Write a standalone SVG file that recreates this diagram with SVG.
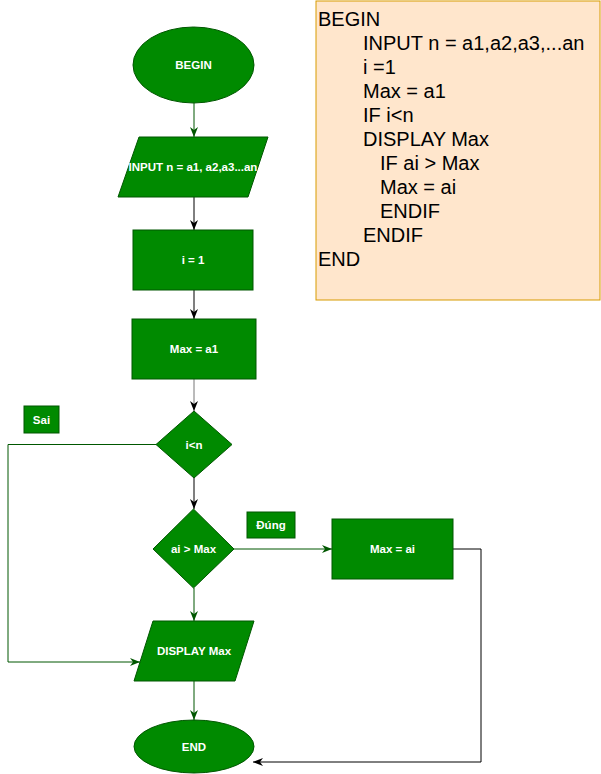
<svg xmlns="http://www.w3.org/2000/svg" width="601" height="774" viewBox="0 0 601 774">
<style>
.shape{fill:#008a00;stroke:#005700;stroke-width:1}
.lbl{font-family:"Liberation Sans",Arial,sans-serif;font-size:11.5px;font-weight:bold;fill:#ffffff;text-anchor:middle;dominant-baseline:central}
.code{font-family:"Liberation Sans",Arial,sans-serif;font-size:20px;fill:#000000}
.c{fill:none;stroke-width:1}
.k{stroke:#000000}
.g{stroke:#005700}
.gy{stroke:#777777}
</style>
<defs>
<marker id="ak" viewBox="0 0 10 10" refX="10" refY="5" markerWidth="10" markerHeight="10" markerUnits="userSpaceOnUse" orient="auto">
<path d="M0,1 L10,5 L0,9 L3,5 Z" fill="#000000"/>
</marker>
<marker id="ag" viewBox="0 0 10 10" refX="10" refY="5" markerWidth="10" markerHeight="10" markerUnits="userSpaceOnUse" orient="auto">
<path d="M0,1 L10,5 L0,9 L3,5 Z" fill="#005700"/>
</marker>
</defs>
<rect width="601" height="774" fill="#ffffff"/>

<g id="connectors">
<path class="c g" d="M194,103 L194,137" marker-end="url(#ag)"/>
<path class="c k" d="M194,197 L194,230" marker-end="url(#ak)"/>
<path class="c k" d="M194,290 L194,319" marker-end="url(#ak)"/>
<path class="c gy" d="M194,379 L194,411" marker-end="url(#ak)"/>
<path class="c k" d="M194,478 L194,509" marker-end="url(#ak)"/>
<path class="c g" d="M156,444.5 L8,444.5 L8,662 L140,662" marker-end="url(#ag)"/>
<path class="c g" d="M234,549 L332,549" marker-end="url(#ag)"/>
<path class="c g" d="M194,588 L194,621" marker-end="url(#ag)"/>
<path class="c g" d="M194,681 L194,720" marker-end="url(#ag)"/>
<path class="c k" d="M453,549 L481,549 L481,762 L253,762" marker-end="url(#ak)"/>
</g>

<g id="begin">
<ellipse class="shape" cx="193.5" cy="65" rx="60.5" ry="38"/>
<text class="lbl" x="193.5" y="65">BEGIN</text>
</g>
<g id="input">
<polygon class="shape" points="139,137 268,137 248,197 118,197"/>
<text class="lbl" x="193" y="167">INPUT n = a1, a2,a3...an</text>
</g>
<g id="i1">
<rect class="shape" x="133" y="230" width="120" height="60"/>
<text class="lbl" x="193" y="260">i = 1</text>
</g>
<g id="maxa1">
<rect class="shape" x="132" y="319" width="124" height="60"/>
<text class="lbl" x="194" y="349">Max = a1</text>
</g>
<g id="cond1">
<polygon class="shape" points="194,411 232,444.5 194,478 156,444.5"/>
<text class="lbl" x="194" y="444.5">i&lt;n</text>
</g>
<g id="sai">
<rect class="shape" x="24" y="406" width="35" height="27"/>
<text class="lbl" x="41.5" y="419.5">Sai</text>
</g>
<g id="cond2">
<polygon class="shape" points="193.5,509 234,549 193.5,588 153,549"/>
<text class="lbl" x="193.5" y="549">ai &gt; Max</text>
</g>
<g id="dung">
<rect class="shape" x="247" y="512" width="48" height="26"/>
<text class="lbl" x="271" y="525">Đúng</text>
</g>
<g id="maxai">
<rect class="shape" x="332" y="519" width="121" height="60"/>
<text class="lbl" x="392.5" y="549">Max = ai</text>
</g>
<g id="display">
<polygon class="shape" points="153,621 254,621 235,681 134,681"/>
<text class="lbl" x="194" y="651">DISPLAY Max</text>
</g>
<g id="end">
<ellipse class="shape" cx="194" cy="746.5" rx="60" ry="26.5"/>
<text class="lbl" x="194" y="746.5">END</text>
</g>

<g id="pseudocode">
<rect x="316" y="1" width="284" height="299" fill="#ffe6cc" stroke="#d79b00" stroke-width="1"/>
<text class="code" x="318" y="26">BEGIN</text>
<text class="code" x="363" y="50">INPUT n = a1,a2,a3,...an</text>
<text class="code" x="363" y="74">i =1</text>
<text class="code" x="363" y="98">Max = a1</text>
<text class="code" x="363" y="122">IF i&lt;n</text>
<text class="code" x="363" y="146">DISPLAY Max</text>
<text class="code" x="380" y="170">IF ai &gt; Max</text>
<text class="code" x="380" y="194">Max = ai</text>
<text class="code" x="380" y="218">ENDIF</text>
<text class="code" x="363" y="242">ENDIF</text>
<text class="code" x="318" y="266">END</text>
</g>
</svg>
